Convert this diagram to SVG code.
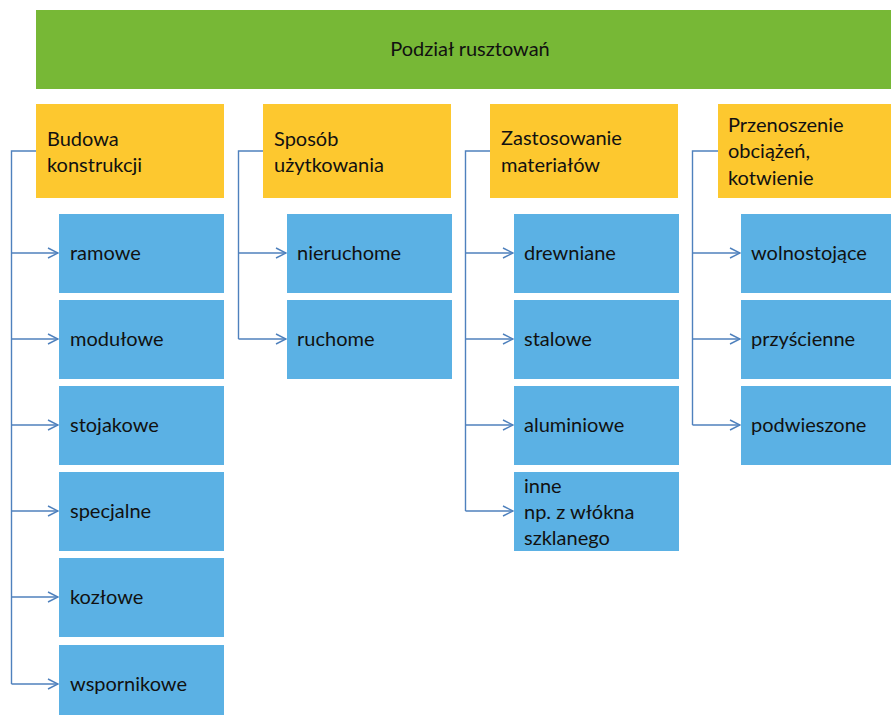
<svg xmlns="http://www.w3.org/2000/svg" width="891" height="715" viewBox="0 0 891 715">
<style>
text{font-family:Lato,"Noto Sans",sans-serif;font-size:20px;fill:#111}
.g{fill:#77b836}
.o{fill:#fdc82f}
.b{fill:#5bb1e4}
.c{fill:none;stroke:#4f81bd;stroke-width:1.4}
</style>
<defs>
<marker id="ah" viewBox="0 0 12 12" refX="11" refY="6" markerWidth="12" markerHeight="12" markerUnits="userSpaceOnUse" orient="auto">
<path d="M1,1 L11,6 L1,11" fill="none" stroke="#4f81bd" stroke-width="1.4"/>
</marker>
</defs>
<rect width="891" height="715" fill="#fff"/>
<g id="connectors">
<path class="c" d="M36,151 H11.5 V684"/>
<path class="c" d="M11.5,253 H58" marker-end="url(#ah)"/>
<path class="c" d="M11.5,339 H58" marker-end="url(#ah)"/>
<path class="c" d="M11.5,425 H58" marker-end="url(#ah)"/>
<path class="c" d="M11.5,511 H58" marker-end="url(#ah)"/>
<path class="c" d="M11.5,597 H58" marker-end="url(#ah)"/>
<path class="c" d="M11.5,684 H58" marker-end="url(#ah)"/>
<path class="c" d="M263,151 H238.5 V339"/>
<path class="c" d="M238.5,253 H286" marker-end="url(#ah)"/>
<path class="c" d="M238.5,339 H286" marker-end="url(#ah)"/>
<path class="c" d="M490,151 H465.5 V511"/>
<path class="c" d="M465.5,253 H513" marker-end="url(#ah)"/>
<path class="c" d="M465.5,339 H513" marker-end="url(#ah)"/>
<path class="c" d="M465.5,425 H513" marker-end="url(#ah)"/>
<path class="c" d="M465.5,511 H513" marker-end="url(#ah)"/>
<path class="c" d="M718,151 H692.5 V425"/>
<path class="c" d="M692.5,253 H740" marker-end="url(#ah)"/>
<path class="c" d="M692.5,339 H740" marker-end="url(#ah)"/>
<path class="c" d="M692.5,425 H740" marker-end="url(#ah)"/>
</g>
<g id="root"><rect class="g" x="36" y="10" width="855" height="79"/><text x="470" y="56" text-anchor="middle">Podział rusztowań</text></g>
<g id="h1"><rect class="o" x="36" y="104" width="188" height="94"/><text x="47" y="146">Budowa</text><text x="47" y="172">konstrukcji</text></g>
<g id="h2"><rect class="o" x="263" y="104" width="188" height="94"/><text x="274" y="146">Sposób</text><text x="274" y="172">użytkowania</text></g>
<g id="h3"><rect class="o" x="490" y="104" width="188" height="94"/><text x="501" y="145">Zastosowanie</text><text x="501" y="172">materiałów</text></g>
<g id="h4"><rect class="o" x="718" y="104" width="173" height="94"/><text x="728" y="132">Przenoszenie</text><text x="728" y="158">obciążeń,</text><text x="728" y="185">kotwienie</text></g>
<g id="n1"><rect class="b" x="59" y="214" width="165" height="79"/><text x="70" y="260">ramowe</text></g>
<g id="n2"><rect class="b" x="59" y="300" width="165" height="79"/><text x="70" y="346">modułowe</text></g>
<g id="n3"><rect class="b" x="59" y="386" width="165" height="79"/><text x="70" y="432">stojakowe</text></g>
<g id="n4"><rect class="b" x="59" y="472" width="165" height="79"/><text x="70" y="518">specjalne</text></g>
<g id="n5"><rect class="b" x="59" y="558" width="165" height="79"/><text x="70" y="604">kozłowe</text></g>
<g id="n6"><rect class="b" x="59" y="645" width="165" height="79"/><text x="70" y="691">wspornikowe</text></g>
<g id="n7"><rect class="b" x="287" y="214" width="165" height="79"/><text x="297" y="260">nieruchome</text></g>
<g id="n8"><rect class="b" x="287" y="300" width="165" height="79"/><text x="297" y="346">ruchome</text></g>
<g id="n9"><rect class="b" x="514" y="214" width="165" height="79"/><text x="524" y="260">drewniane</text></g>
<g id="n10"><rect class="b" x="514" y="300" width="165" height="79"/><text x="524" y="346">stalowe</text></g>
<g id="n11"><rect class="b" x="514" y="386" width="165" height="79"/><text x="524" y="432">aluminiowe</text></g>
<g id="n12"><rect class="b" x="514" y="472" width="165" height="79"/><text x="524" y="493">inne</text><text x="524" y="519">np. z włókna</text><text x="524" y="545">szklanego</text></g>
<g id="n13"><rect class="b" x="741" y="214" width="150" height="79"/><text x="751" y="260">wolnostojące</text></g>
<g id="n14"><rect class="b" x="741" y="300" width="150" height="79"/><text x="751" y="346">przyścienne</text></g>
<g id="n15"><rect class="b" x="741" y="386" width="150" height="79"/><text x="751" y="432">podwieszone</text></g>
</svg>
